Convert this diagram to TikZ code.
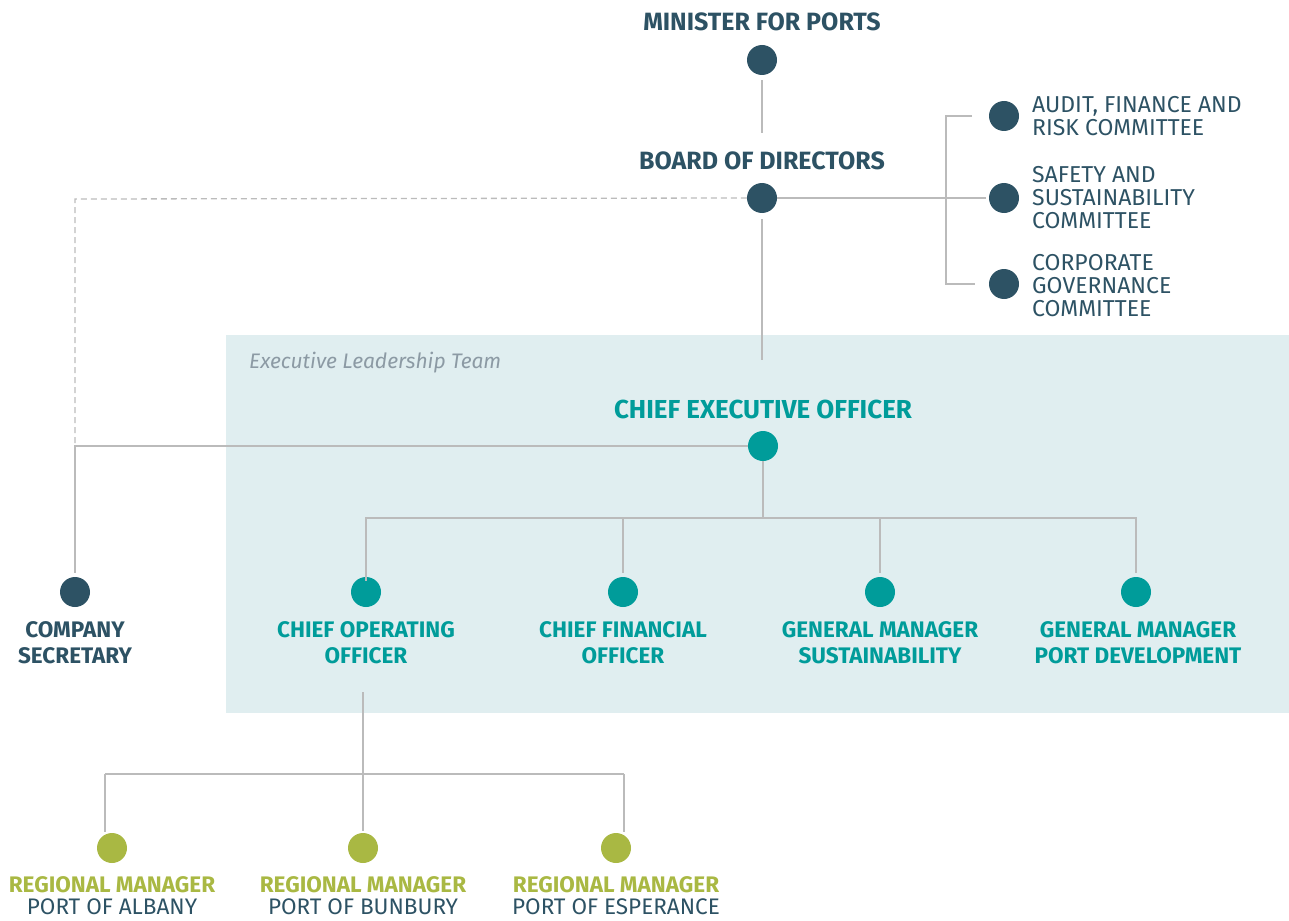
\documentclass[tikz,border=0pt]{standalone}
\usepackage{fontspec}
\setmainfont{Fira Sans}
\definecolor{navy}{HTML}{2D5264}
\definecolor{teal}{HTML}{009C9A}
\definecolor{lime}{HTML}{A9B843}
\definecolor{boxbg}{HTML}{E0EEF0}
\definecolor{linegray}{HTML}{BBBBBB}
\definecolor{elt}{HTML}{8C9AA4}
\begin{document}
\begin{tikzpicture}[x=1pt,y=-1pt,
  dotn/.style={circle,minimum size=30pt,inner sep=0pt},
  navydot/.style={dotn,fill=navy},
  tealdot/.style={dotn,fill=teal},
  limedot/.style={dotn,fill=lime},
  conn/.style={draw=linegray,line width=1.3pt},
  dash conn/.style={conn,dash pattern=on 6pt off 4pt},
  bl/.style={font=\fontsize{22.5}{26}\selectfont\bfseries,align=center,inner sep=0pt},
  toplbl/.style={font=\fontsize{25}{28}\selectfont\bfseries,align=center,inner sep=0pt,text=navy},
  navylbl/.style={bl,text=navy},
  teallbl/.style={bl,text=teal},
  limelbl/.style={bl,text=lime},
  comlbl/.style={font=\fontsize{23}{23}\selectfont,align=left,text=navy,anchor=west,inner sep=0pt},
  portlbl/.style={font=\fontsize{22.5}{24}\selectfont,text=navy,inner sep=0pt}
]
\useasboundingbox (0,0) rectangle (1289,920);
\fill[boxbg] (226,335) rectangle (1289,713);
\node[anchor=west,inner sep=0pt,text=elt,font=\fontsize{21}{23}\selectfont\itshape] (eltlbl) at (249,363) {Executive Leadership Team};

% nodes
\node[toplbl] (mintxt) at (762,22) {MINISTER FOR PORTS};
\node[navydot] (min) at (762,60) {};
\node[toplbl] (brdtxt) at (762,161) {BOARD OF DIRECTORS};
\node[navydot] (brd) at (762,198) {};

\node[navydot] (afr) at (1004,116) {};
\node[navydot] (ssc) at (1004,198) {};
\node[navydot] (cgc) at (1004,284) {};
\node[comlbl] (afrtxt) at (1032,116) {AUDIT, FINANCE AND\\RISK COMMITTEE};
\node[comlbl] (ssctxt) at (1032,198) {SAFETY AND\\SUSTAINABILITY\\COMMITTEE};
\node[comlbl] (cgctxt) at (1032,286) {CORPORATE\\GOVERNANCE\\COMMITTEE};

\node[toplbl,text=teal,font=\fontsize{26}{28}\selectfont\bfseries] (ceotxt) at (763,409) {CHIEF EXECUTIVE OFFICER};
\node[tealdot] (ceo) at (763,446) {};

\node[navydot] (cs) at (75,592) {};
\node[navylbl] (cstxt) at (75,643) {COMPANY\\SECRETARY};

\node[tealdot] (coo) at (366,592) {};
\node[teallbl] (cootxt) at (366,643) {CHIEF OPERATING\\OFFICER};
\node[tealdot] (cfo) at (623,592) {};
\node[teallbl] (cfotxt) at (623,643) {CHIEF FINANCIAL\\OFFICER};
\node[tealdot] (gms) at (880,592) {};
\node[teallbl] (gmstxt) at (880,643) {GENERAL MANAGER\\SUSTAINABILITY};
\node[tealdot] (gmp) at (1136,592) {};
\node[teallbl] (gmptxt) at (1138,643) {GENERAL MANAGER\\PORT DEVELOPMENT};

\node[limedot] (rma) at (112,848) {};
\node[limedot] (rmb) at (363,848) {};
\node[limedot] (rme) at (616,848) {};
\node[limelbl] (rmatxt) at (112,885) {REGIONAL MANAGER};
\node[limelbl] (rmbtxt) at (363,885) {REGIONAL MANAGER};
\node[limelbl] (rmetxt) at (616,885) {REGIONAL MANAGER};
\node[portlbl] (pa) at (112,907) {PORT OF ALBANY};
\node[portlbl] (pb) at (363,907) {PORT OF BUNBURY};
\node[portlbl] (pe) at (616,907) {PORT OF ESPERANCE};

% coordinates for free ends
\coordinate (minend) at (762,133);
\coordinate (brdend) at (762,360);
\coordinate (csturn) at (75,199);
\coordinate (csjoin) at (75,446);
\coordinate (brx) at (946,198);
\coordinate (ceobus) at (763,518);
\coordinate (cootop) at (363,692);
\coordinate (rmbus) at (363,774);

% connectors
\draw[conn] ([yshift=-5pt]min.south) -- (minend);
\draw[conn] ([yshift=-6pt]brd.south) -- (brdend);
\draw[dash conn] (brd.west) -- (csturn) -- (csjoin);
\draw[conn] (ceo.west) -- (csjoin) -- ([yshift=4pt]cs.north);
\draw[conn] (brd.east) -- ([xshift=-3pt]ssc.west);
\draw[conn] ([xshift=-3pt]afr.west -| 975,0) -- (brx |- afr) -- (brx |- cgc) -- (975,0 |- cgc);
\draw[conn] (ceo.south) -- (ceobus);
\draw[conn] ([yshift=-4pt]coo.north) -- (coo |- ceobus) -- (gmp |- ceobus) -- ([yshift=4pt]gmp.north);
\draw[conn] (cfo |- ceobus) -- ([yshift=4pt]cfo.north);
\draw[conn] (gms |- ceobus) -- ([yshift=4pt]gms.north);
\draw[conn] (cootop) -- (rmbus);
\draw[conn] (105,774) -- (624,774);
\draw[conn] (105,774) -- (105,832);
\draw[conn] (rmbus) -- ([yshift=2pt]rmb.north);
\draw[conn] (624,774) -- (624,832);
\end{tikzpicture}
\end{document}
